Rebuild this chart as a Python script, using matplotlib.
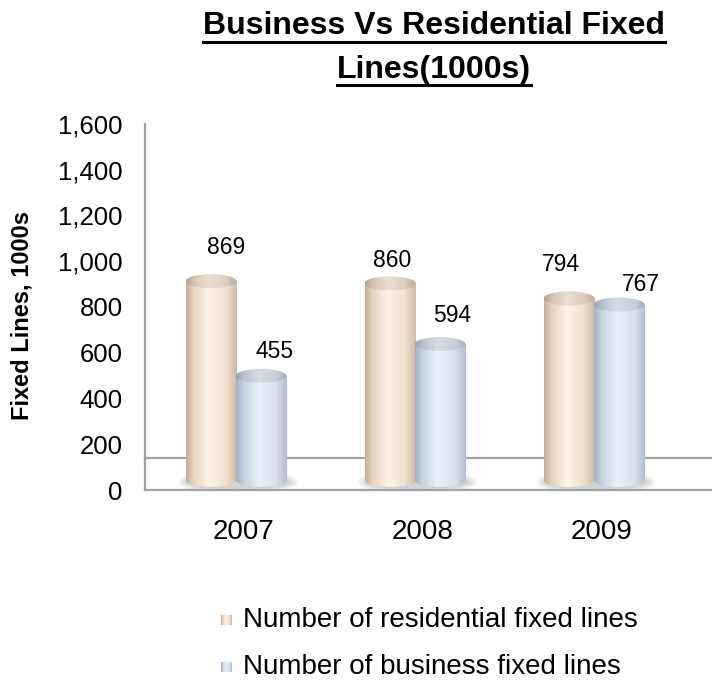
import numpy as np
import matplotlib
matplotlib.use("Agg")
import matplotlib.pyplot as plt
from matplotlib.patches import Rectangle, Ellipse
from matplotlib.transforms import ScaledTranslation, blended_transform_factory
from matplotlib.ticker import FuncFormatter
from matplotlib.lines import Line2D

# ---- data -------------------------------------------------------------
years = ["2007", "2008", "2009"]
residential = [869, 860, 794]
business = [455, 594, 767]
series_names = ["Number of residential fixed lines", "Number of business fixed lines"]
y_ticks = [0, 200, 400, 600, 800, 1000, 1200, 1400, 1600]

# ---- styling ----------------------------------------------------------
plt.rcParams["font.family"] = ["Liberation Sans", "DejaVu Sans"]

W, H = 712, 684
fig = plt.figure(figsize=(W / 100, H / 100), dpi=100)
fig.patch.set_facecolor("white")

def px(dx, dy):
    """Pixel offset as a transform (figure is 100 dpi)."""
    return ScaledTranslation(dx / 100, dy / 100, fig.dpi_scale_trans)

ax_l, ax_r, ax_t, ax_b = 145, 712, 124, 490
ax = fig.add_axes([ax_l / W, 1 - ax_b / H, (ax_r - ax_l) / W, (ax_b - ax_t) / H])
ax.set_facecolor("none")

group_px = 179.0
x = np.arange(len(years))
xmin = -91 / group_px
xmax = xmin + (ax_r - ax_l) / group_px
ymax = 1600
unit_px = (ax_b - ax_t) / ymax

bar_w = 51 / group_px
half = 25 / group_px
cap_h = 14 / unit_px           # ellipse height in data units
lift = ax.transData + px(0, 10)

res_stops = [(0.0, (196, 176, 156)), (0.15, (232, 213, 194)), (0.45, (253, 242, 230)),
             (0.8, (240, 223, 206)), (1.0, (206, 186, 166))]
bus_stops = [(0.0, (165, 176, 194)), (0.15, (200, 210, 225)), (0.45, (234, 240, 248)),
             (0.8, (216, 224, 237)), (1.0, (178, 190, 207))]

def gradient(stops, n=64, scale=1.0):
    pos = np.array([s[0] for s in stops])
    cols = np.array([s[1] for s in stops], dtype=float) / 255.0
    t = np.linspace(0, 1, n)
    img = np.stack([np.interp(t, pos, cols[:, k]) for k in range(3)], axis=-1)
    return np.clip(img * scale, 0, 1)[None, :, :]

def fill_patch(patch, img, extent, z):
    patch.set_transform(lift)
    patch.set_facecolor("none")
    patch.set_edgecolor("none")
    patch.set_zorder(z)
    ax.add_patch(patch)
    im = ax.imshow(img, extent=extent, aspect="auto", transform=lift,
                   interpolation="bilinear", zorder=z)
    im.set_clip_path(patch)

def cylinder(cx, value, stops, z):
    x0, x1 = cx - bar_w / 2, cx + bar_w / 2
    body_img = gradient(stops)
    cap_img = gradient(stops, scale=0.92)
    # bottom rounding
    fill_patch(Ellipse((cx, 0), bar_w, cap_h), body_img,
               [x0, x1, -cap_h, cap_h], z)
    # body
    body = Rectangle((x0, 0), bar_w, value)
    fill_patch(body, body_img, [x0, x1, 0, value], z + 0.1)
    # top cap
    fill_patch(Ellipse((cx, value), bar_w, cap_h), cap_img,
               [x0, x1, value - cap_h, value + cap_h], z + 0.2)

# soft shadows beneath each pair
for xi in x:
    for k in range(10):
        ax.add_patch(Ellipse((xi + 2 / group_px, -2 / unit_px),
                             2 * bar_w + (18 - 2 * k) / group_px,
                             cap_h * (1.9 - 0.1 * k),
                             transform=lift, facecolor="#707070",
                             edgecolor="none", alpha=0.03, zorder=1))

for xi, r, b in zip(x, residential, business):
    cylinder(xi - half, r, res_stops, 3)
    cylinder(xi + half, b, bus_stops, 4)

# value labels
res_off = [(15, 34), (2, 23), (-8, 34)]
bus_off = [(14, 24), (12, 29), (22, 20)]
for xi, v, (dx, dy) in zip(x, residential, res_off):
    ax.annotate(f"{v}", xy=(xi - half, v), xycoords=lift, xytext=(dx, dy),
                textcoords="offset pixels", ha="center", va="center", fontsize=16.5)
for xi, v, (dx, dy) in zip(x, business, bus_off):
    ax.annotate(f"{v}", xy=(xi + half, v), xycoords=lift, xytext=(dx, dy),
                textcoords="offset pixels", ha="center", va="center", fontsize=16.5)

# axes frame: left wall edge, floor front and back edges
axis_grey = "#a3a3a3"
for side in ("top", "right"):
    ax.spines[side].set_visible(False)
for side in ("left", "bottom"):
    ax.spines[side].set_color(axis_grey)
    ax.spines[side].set_linewidth(1.6)
floor_tr = blended_transform_factory(ax.transAxes, ax.transData) + px(0, 32)
ax.add_line(Line2D([0, 1], [0, 0], transform=floor_tr, color=axis_grey,
                   lw=1.6, clip_on=False, zorder=0.5))

ax.set_xlim(xmin, xmax)
ax.set_ylim(0, ymax)
ax.set_yticks(y_ticks)
ax.yaxis.set_major_formatter(FuncFormatter(lambda v, p: f"{int(v):,}"))
ax.tick_params(axis="y", length=0, pad=16, labelsize=18.5)
ax.set_xticks(x, years)
ax.tick_params(axis="x", length=0, pad=21, labelsize=20)
for lab in ax.get_xticklabels():
    lab.set_transform(lab.get_transform() + px(8, 0))

# y-axis title
fig.text(22 / W, 1 - 316 / H, "Fixed Lines, 1000s", rotation=90,
         ha="center", va="center", fontsize=17, fontweight="bold")

# chart title with underline
title_lines = ["Business Vs Residential Fixed", "Lines(1000s)"]
baselines = [34, 78]
underlines = [42, 85]
titles = [fig.text(434 / W, 1 - b / H, t, ha="center", va="baseline",
                   fontsize=23, fontweight="bold")
          for t, b in zip(title_lines, baselines)]
fig.canvas.draw()
renderer = fig.canvas.get_renderer()
for t, u in zip(titles, underlines):
    bb = t.get_window_extent(renderer)
    fig.add_artist(Line2D([bb.x0 / W, bb.x1 / W], [1 - u / H, 1 - u / H],
                          transform=fig.transFigure, color="black", lw=2.2))

# legend
leg_rows = [620, 667]
for name, stops, yc in zip(series_names, [res_stops, bus_stops], leg_rows):
    iax = fig.add_axes([221 / W, 1 - (yc + 5) / H, 11 / W, 10 / H])
    iax.imshow(gradient(stops, n=16), aspect="auto", interpolation="bilinear")
    iax.axis("off")
    fig.text(243 / W, 1 - yc / H, name, ha="left", va="center", fontsize=20)

fig.savefig("out.png", dpi=100, facecolor="white")
